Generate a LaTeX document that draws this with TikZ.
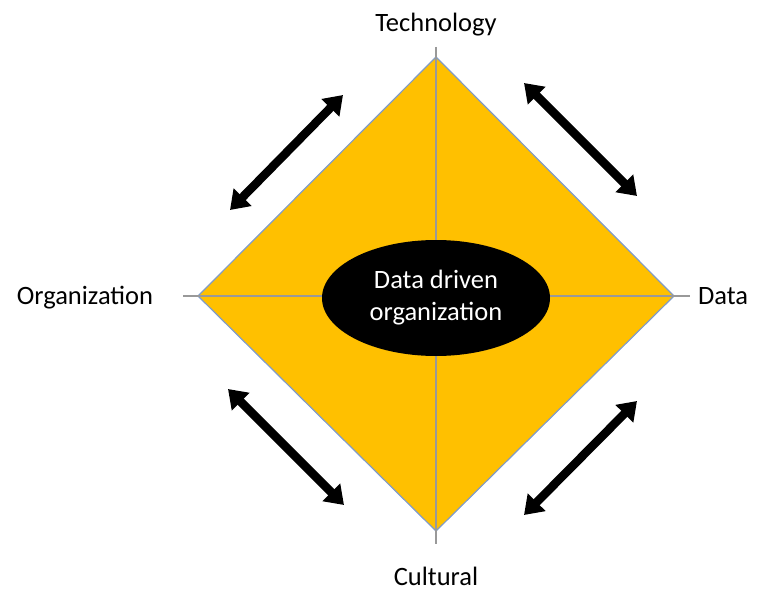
\documentclass[tikz,border=0pt]{standalone}
\usepackage{fontspec}
\setmainfont{Carlito}
\usetikzlibrary{arrows.meta,shapes.geometric}
\definecolor{gold}{HTML}{FFC000}
\definecolor{edgeblue}{HTML}{7F9BC9}
\begin{document}
\begin{tikzpicture}[
      x=1pt, y=-1pt,
      font=\fontsize{26.5}{32}\selectfont,
      face/.style={fill=gold, draw=edgeblue, line width=1.2pt, line join=miter},
      axis/.style={draw=black!40, line width=1.4pt},
      core/.style={ellipse, fill=black, text=white, align=center,
        minimum width=228pt, minimum height=116pt, inner sep=0pt},
      lbl/.style={text=black, inner sep=0pt},
      dbl/.style={{Triangle[length=18pt,width=24pt]}-{Triangle[length=18pt,width=24pt]},
        line width=8.5pt, black},
    ]
    \useasboundingbox (0,0) rectangle (768,607);

    % diamond corners and axis ends
    \coordinate (top) at (436,57);
    \coordinate (rgt) at (674,296);
    \coordinate (bot) at (436,531);
    \coordinate (lft) at (198,296);
    \coordinate (ntop) at (436,47);
    \coordinate (nbot) at (436,544);
    \coordinate (nlft) at (183,296);
    \coordinate (nrgt) at (690,296);

    \filldraw[face] (top) -- (rgt) -- (bot) -- (lft) -- cycle;
    \draw[axis] (ntop) -- (nbot);
    \draw[axis] (nlft) -- (nrgt);

    \node[core] (ddo) at (436,298) {Data driven\\organization};

    % dimension labels
    \node[lbl] (tech) at (436,25) {Technology};
    \node[lbl] (org) at (85,298) {Organization};
    \node[lbl] (data) at (723,296) {Data};
    \node[lbl] (cult) at (436,576) {Cultural};

    % double arrows along the edges
    \coordinate (tl1) at (230,210);
    \coordinate (tl2) at (343,95);
    \coordinate (tr1) at (524,83);
    \coordinate (tr2) at (637,196);
    \coordinate (bl1) at (228,389);
    \coordinate (bl2) at (344,505);
    \coordinate (br1) at (524,515);
    \coordinate (br2) at (637,401);
    \draw[dbl] (tl1) -- (tl2);
    \draw[dbl] (tr1) -- (tr2);
    \draw[dbl] (bl1) -- (bl2);
    \draw[dbl] (br1) -- (br2);
  \end{tikzpicture}
\end{document}
